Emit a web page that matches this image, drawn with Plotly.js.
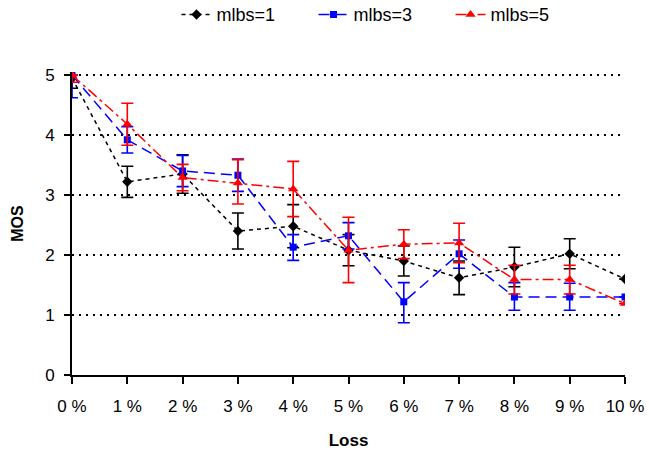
<!DOCTYPE html>
<html><head><meta charset="utf-8">
<script src="https://cdn.plot.ly/plotly-3.0.1.min.js"></script>
<style>body{margin:0;background:#fff}#c{width:649px;height:454px}</style>
</head><body><div id="c"></div>
<script>
const lossTicks = ['0 %','1 %','2 %','3 %','4 %','5 %','6 %','7 %','8 %','9 %','10 %'];
const lossX = [0,1,2,3,4,5,6,7,8,9,10];
const mlbs1 = [4.95,3.22,3.35,2.40,2.48,2.08,1.90,1.62,1.80,2.02,1.60];
const mlbs1Err = [0.17,0.26,0.32,0.30,0.36,0.26,0.25,0.28,0.33,0.25,0];
const mlbs3 = [5.00,3.92,3.40,3.33,2.13,2.32,1.22,2.02,1.30,1.30,1.30];
const mlbs3ErrPlus = [0,0.22,0.26,0.27,0.21,0.22,0.32,0.23,0.24,0.23,0];
const mlbs3ErrMinus = [0.38,0.22,0.26,0.27,0.22,0.22,0.35,0.24,0.22,0.22,0];
const mlbs5 = [5.00,4.18,3.29,3.20,3.10,2.08,2.18,2.20,1.59,1.59,1.19];
const mlbs5ErrPlus = [0,0.35,0.22,0.39,0.46,0.55,0.24,0.33,0.24,0.24,0];
const mlbs5ErrMinus = [0.12,0.35,0.22,0.35,0.46,0.54,0.24,0.33,0.24,0.24,0];

function tr(name, y, ep, em, color, dash, symbol, size){
  return {x: lossX, y: y, name: name, type:'scatter', mode:'lines+markers',
    line:{color:color, width:1.5, dash:dash},
    marker:{color:color, symbol:symbol, size:size},
    error_y:{type:'data', symmetric:false, array:ep, arrayminus:em, color:color, thickness:1.6, width:6}};
}
const data = [
  tr('mlbs=1', mlbs1, mlbs1Err, mlbs1Err, '#000000', '4px,4px', 'diamond', 8),
  tr('mlbs=3', mlbs3, mlbs3ErrPlus, mlbs3ErrMinus, '#0000FF', '11px,6px', 'square', 7),
  tr('mlbs=5', mlbs5, mlbs5ErrPlus, mlbs5ErrMinus, '#FF0000', '11px,4px,3px,4px', 'triangle-up', 9)
];
const layout = {
  width:649, height:454,
  margin:{l:72, r:24, t:72, b:79, autoexpand:false},
  paper_bgcolor:'#fff', plot_bgcolor:'#fff',
  font:{family:'Liberation Sans, Arial, sans-serif', size:16, color:'#000'},
  showlegend:true,
  legend:{orientation:'h', x:0.189, xanchor:'left', y:1.25, yanchor:'top', font:{size:18},
    entrywidth:92, tracegroupgap:0},
  xaxis:{range:[0,10], tickvals:lossX, ticktext:lossTicks, showgrid:false, zeroline:false,
    showline:true, linecolor:'#000', linewidth:1.6, ticks:'outside', ticklen:7, tickcolor:'#000', tickwidth:1.6,
    ticklabelstandoff:8, tickfont:{size:17},
    title:{text:'<b>Loss</b>', font:{size:17}, standoff:19}},
  yaxis:{range:[0,5.05], tickvals:[0,1,2,3,4,5], showgrid:true, gridcolor:'#000', griddash:'2px,5px', gridwidth:1.6, zeroline:false,
    showline:true, linecolor:'#000', linewidth:1.6, ticks:'outside', ticklen:6, tickcolor:'#000', tickwidth:1.6,
    ticklabelstandoff:6, tickfont:{size:17},
    title:{text:'<b>MOS</b>', font:{size:16}, standoff:18}}
};
Plotly.newPlot('c', data, layout, {displayModeBar:false});
</script></body></html>
